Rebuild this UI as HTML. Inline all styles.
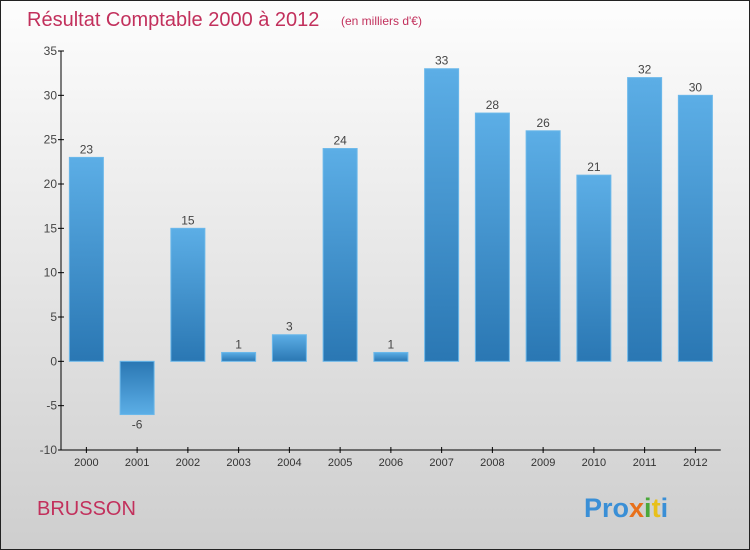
<!DOCTYPE html>
<html><head><meta charset="utf-8"><style>
body{margin:0;}
#wrap{position:relative;width:750px;height:550px;box-sizing:border-box;border:1px solid #222;background:linear-gradient(#fdfdfd,#cecece);font-family:"Liberation Sans",sans-serif;overflow:hidden}
</style></head><body>
<div id="wrap">
<svg id="chart" width="748" height="548" style="position:absolute;left:0;top:0">
<defs>
<linearGradient id="gp" x1="0" y1="0" x2="0" y2="1"><stop offset="0" stop-color="#5caee6"/><stop offset="1" stop-color="#2a77b3"/></linearGradient>
<linearGradient id="gn" x1="0" y1="0" x2="0" y2="1"><stop offset="0" stop-color="#2a77b3"/><stop offset="1" stop-color="#5caee6"/></linearGradient>
</defs>
<text x="26" y="25" font-size="20" fill="#c2305c">Résultat Comptable 2000 à 2012</text>
<text x="340" y="24" font-size="12" fill="#c2305c">(en milliers d'€)</text>
<text x="36" y="514" font-size="20" fill="#c2305c">BRUSSON</text>
<g font-size="27" font-weight="bold">
<text x="583" y="516"><tspan fill="#3a8fd6">Pro</tspan><tspan fill="#e8701a">x</tspan><tspan fill="#4aa83a">i</tspan><tspan fill="#e8c01a">t</tspan><tspan fill="#3a8fd6">i</tspan></text>
</g>
<g id="plot"></g>
</svg>
</div>
<script>
const categories=["2000","2001","2002","2003","2004","2005","2006","2007","2008","2009","2010","2011","2012"];
const values=[23,-6,15,1,3,24,1,33,28,26,21,32,30];
const yTicks=[-10,-5,0,5,10,15,20,25,30,35];
const ns="http://www.w3.org/2000/svg";
const g=document.getElementById("plot");
const x0=60,step=50.75,yTop=50,yBot=449,vMin=-10,vMax=35;
function y(v){return yBot-(v-vMin)/(vMax-vMin)*(yBot-yTop);}
function xc(i){return x0+step*(i+0.5);}
function mk(t,a){const e=document.createElementNS(ns,t);for(const k in a)e.setAttribute(k,a[k]);g.appendChild(e);return e;}
values.forEach((v,i)=>{
 const top=Math.min(y(v),y(0)),h=Math.abs(y(v)-y(0));
 const r=mk("rect",{x:xc(i)-17,y:top,width:34,height:h,fill:v>=0?"url(#gp)":"url(#gn)",stroke:"#6bb8ea","stroke-width":1});
 
 
 const t=mk("text",{x:xc(i),y:v>=0?top-4:top+h+14,"text-anchor":"middle","font-size":12,fill:"#444"});
 t.textContent=v;
 
 
 const xl=mk("text",{x:xc(i),y:yBot+16,"text-anchor":"middle","font-size":11,fill:"#333"});
 xl.textContent=categories[i];
 
 
 const tk=mk("line",{x1:xc(i),x2:xc(i),y1:yBot-3,y2:yBot+3,stroke:"#000"});
 
 
});
yTicks.forEach(v=>{
 const l=mk("line",{x1:x0-3,x2:x0+3,y1:y(v),y2:y(v),stroke:"#000"});
 
 
 const t=mk("text",{x:x0-4,y:y(v)+4,"text-anchor":"end","font-size":12,fill:"#444"});
 t.textContent=v;
 
 
});
const ya=mk("line",{x1:x0,x2:x0,y1:yTop,y2:yBot,stroke:"#000"});


const xa=mk("line",{x1:x0,x2:x0+step*13,y1:yBot,y2:yBot,stroke:"#000"});


</script>
</body></html>
